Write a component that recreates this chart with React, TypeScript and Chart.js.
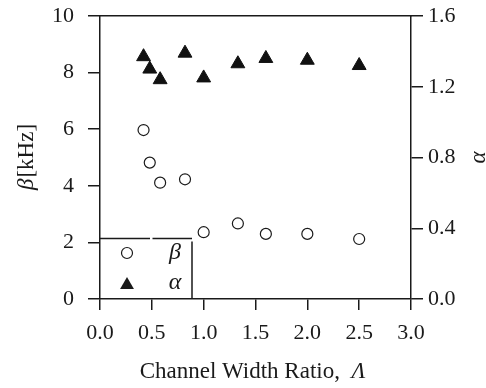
import React, { useEffect, useRef } from "react";
import { Chart, registerables } from "chart.js";

Chart.register(...registerables);

const lambdaRatio = [0.42, 0.48, 0.58, 0.82, 1.0, 1.33, 1.6, 2.0, 2.5];
const betaKHz = [5.97, 4.82, 4.11, 4.23, 2.36, 2.67, 2.3, 2.3, 2.12];
const alphaVals = [1.37, 1.3, 1.24, 1.39, 1.25, 1.33, 1.36, 1.35, 1.32];

const xTicks = [0, 0.5, 1.0, 1.5, 2.0, 2.5, 3.0];
const yLeftTicks = [0, 2, 4, 6, 8, 10];
const yRightTicks = [0, 0.4, 0.8, 1.2, 1.6];

const INK = "#1a1a1a";
const SERIF = "'Liberation Serif', 'Times New Roman', serif";

const zeroPad = (s: any) => {
  s.paddingTop = 0;
  s.paddingBottom = 0;
  s.paddingLeft = 0;
  s.paddingRight = 0;
};

const decorPlugin = {
  id: "decor",
  afterDraw(chart: any) {
    const { ctx, chartArea } = chart;
    const { left, right, top, bottom } = chartArea;
    ctx.save();
    ctx.fillStyle = INK;
    ctx.strokeStyle = INK;

    // X title
    const xa = "Channel Width Ratio,  ";
    const xb = "\u039B";
    ctx.font = `23px ${SERIF}`;
    const wa = ctx.measureText(xa).width;
    ctx.font = `italic 23px ${SERIF}`;
    const wb = ctx.measureText(xb).width;
    const cx = (left + right) / 2 - 3;
    const sx = cx - (wa + wb) / 2;
    ctx.textBaseline = "alphabetic";
    ctx.textAlign = "left";
    ctx.font = `23px ${SERIF}`;
    ctx.fillText(xa, sx, 378);
    ctx.font = `italic 23px ${SERIF}`;
    ctx.fillText(xb, sx + wa, 378);

    // Left title
    const cy = (top + bottom) / 2;
    ctx.save();
    ctx.translate(27, cy);
    ctx.rotate(-Math.PI / 2);
    ctx.font = `italic 23px ${SERIF}`;
    const la = "\u03B2";
    const lwa = ctx.measureText(la).width;
    ctx.font = `23px ${SERIF}`;
    const lb = "[kHz]";
    const lwb = ctx.measureText(lb).width;
    ctx.textBaseline = "middle";
    ctx.textAlign = "left";
    const lsx = -(lwa + lwb) / 2;
    ctx.font = `italic 23px ${SERIF}`;
    ctx.fillText(la, lsx, 0);
    ctx.font = `23px ${SERIF}`;
    ctx.fillText(lb, lsx + lwa + 1, 0);
    ctx.restore();

    // Right title
    ctx.save();
    ctx.translate(479, cy);
    ctx.rotate(-Math.PI / 2);
    ctx.font = `italic 23px ${SERIF}`;
    ctx.textAlign = "center";
    ctx.textBaseline = "middle";
    ctx.fillText("\u03B1", 0, 0);
    ctx.restore();

    // Legend box
    const boxTop = bottom - 60.5;
    const boxRight = left + 92;
    ctx.lineWidth = 1.5;
    ctx.beginPath();
    ctx.moveTo(left, boxTop);
    ctx.lineTo(left + 50, boxTop);
    ctx.moveTo(left + 52.5, boxTop);
    ctx.lineTo(boxRight, boxTop);
    ctx.moveTo(boxRight, boxTop + 3);
    ctx.lineTo(boxRight, bottom);
    ctx.stroke();

    // legend markers
    const mx = left + 27;
    const y1 = bottom - 46;
    const y2 = bottom - 16;
    ctx.lineWidth = 1.2;
    ctx.beginPath();
    ctx.arc(mx, y1, 5.5, 0, Math.PI * 2);
    ctx.stroke();
    const r = 8;
    ctx.beginPath();
    for (let i = 0; i < 3; i++) {
      const a = (i * 2 * Math.PI) / 3;
      const px = mx + Math.sin(a) * r;
      const py = y2 + 2 - Math.cos(a) * r;
      if (i === 0) ctx.moveTo(px, py);
      else ctx.lineTo(px, py);
    }
    ctx.closePath();
    ctx.fill();

    ctx.font = `italic 24px ${SERIF}`;
    ctx.textAlign = "center";
    ctx.textBaseline = "middle";
    ctx.fillText("\u03B2", left + 75, y1);
    ctx.fillText("\u03B1", left + 75, y2);
    ctx.restore();
  },
};

export default function App() {
  const ref = useRef<HTMLCanvasElement | null>(null);
  useEffect(() => {
    if (!ref.current) return;
    const tickFont = { family: SERIF, size: 22 };
    const chart = new Chart(ref.current, {
      type: "scatter",
      data: {
        datasets: [
          {
            label: "\u03B2",
            data: lambdaRatio.map((x, i) => ({ x, y: betaKHz[i] })),
            yAxisID: "y",
            pointStyle: "circle",
            pointRadius: 5.5,
            pointBackgroundColor: "rgba(255,255,255,0)",
            pointBorderColor: INK,
            pointBorderWidth: 1.2,
            showLine: false,
          },
          {
            label: "\u03B1",
            data: lambdaRatio.map((x, i) => ({ x, y: alphaVals[i] })),
            yAxisID: "y2",
            pointStyle: "triangle",
            pointRadius: 8,
            pointBackgroundColor: "#111",
            pointBorderColor: "#111",
            pointBorderWidth: 1,
            showLine: false,
          },
        ],
      },
      options: {
        animation: false,
        responsive: true,
        maintainAspectRatio: false,
        layout: { padding: { top: 16, left: 0, right: 0, bottom: 0 } },
        plugins: { legend: { display: false }, tooltip: { enabled: false } },
        events: [],
        scales: {
          x: {
            type: "linear",
            position: "bottom",
            min: 0,
            max: 3,
            afterBuildTicks: (s: any) => {
              s.ticks = xTicks.map((v) => ({ value: v }));
            },
            ticks: {
              font: tickFont,
              color: INK,
              padding: 10,
              maxRotation: 0,
              callback: (v: any) => Number(v).toFixed(1),
            },
            grid: {
              drawOnChartArea: false,
              drawTicks: true,
              tickLength: 11,
              color: INK,
              lineWidth: 1.5,
            },
            border: { display: true, color: INK, width: 1.5 },
            afterFit: (s: any) => {
              s.height = 89;
              zeroPad(s);
            },
          },
          xTop: {
            type: "linear",
            position: "top",
            min: 0,
            max: 3,
            ticks: { display: false },
            grid: { display: false, drawTicks: false },
            border: { display: true, color: INK, width: 1.5 },
            afterFit: (s: any) => {
              s.height = 0;
              zeroPad(s);
            },
          },
          y: {
            type: "linear",
            position: "left",
            min: 0,
            max: 10,
            afterBuildTicks: (s: any) => {
              s.ticks = yLeftTicks.map((v) => ({ value: v }));
            },
            ticks: { font: tickFont, color: INK, padding: 14 },
            grid: {
              drawOnChartArea: false,
              drawTicks: true,
              tickLength: 12,
              color: INK,
              lineWidth: 1.5,
            },
            border: { display: true, color: INK, width: 1.5 },
            afterFit: (s: any) => {
              s.width = 100;
              zeroPad(s);
            },
          },
          y2: {
            type: "linear",
            position: "right",
            min: 0,
            max: 1.6,
            afterBuildTicks: (s: any) => {
              s.ticks = yRightTicks.map((v) => ({ value: v }));
            },
            ticks: {
              font: tickFont,
              color: INK,
              padding: 5,
              callback: (v: any) => Number(v).toFixed(1),
            },
            grid: {
              drawOnChartArea: false,
              drawTicks: true,
              tickLength: 12,
              color: INK,
              lineWidth: 1.5,
            },
            border: { display: true, color: INK, width: 1.5 },
            afterFit: (s: any) => {
              s.width = 75;
              zeroPad(s);
            },
          },
        },
      },
      plugins: [decorPlugin],
    } as any);
    return () => chart.destroy();
  }, []);

  return (
    <div
      style={{
        position: "fixed",
        left: 0,
        top: 0,
        width: 486,
        height: 388,
        background: "#fff",
      }}
    >
      <canvas ref={ref} />
    </div>
  );
}
